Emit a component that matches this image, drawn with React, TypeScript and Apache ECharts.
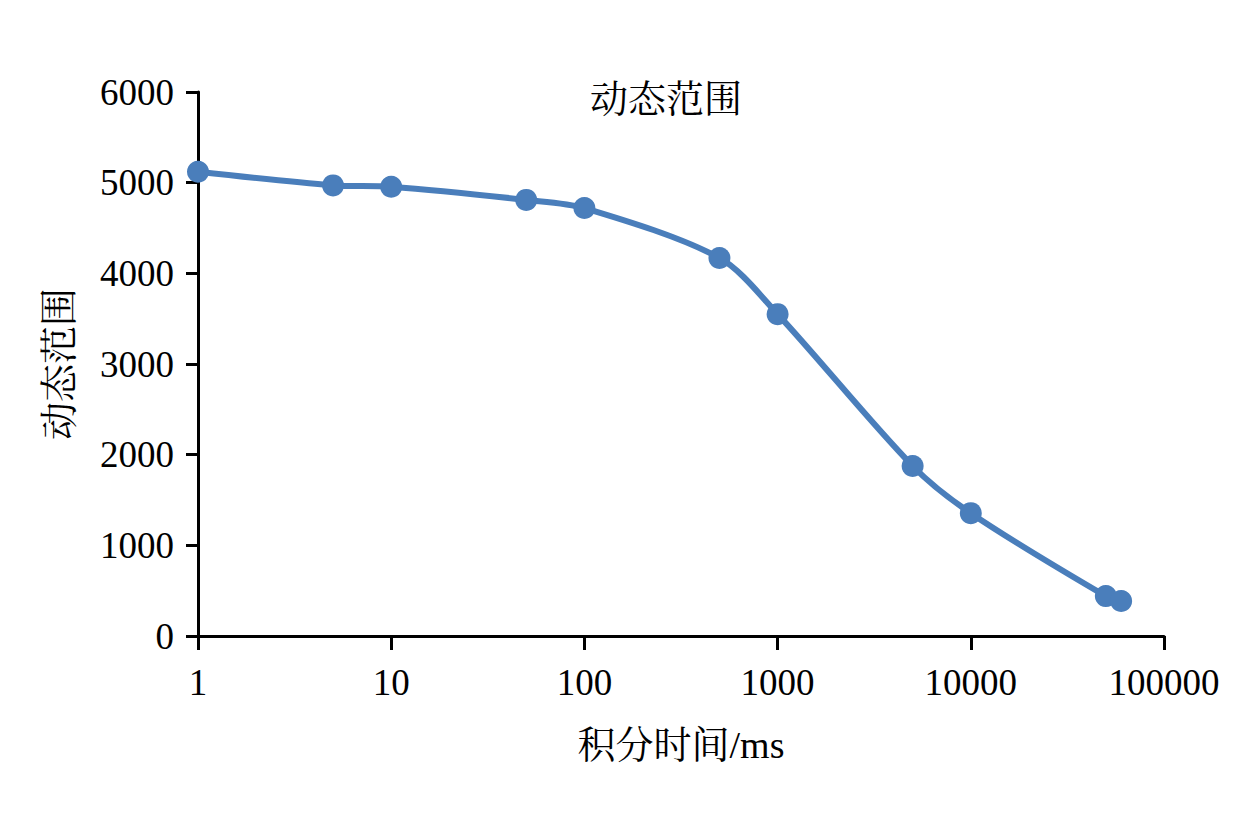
import React, { useEffect, useRef } from "react";
import * as echarts from "echarts";

const xValues = [1, 5, 10, 50, 100, 500, 1000, 5000, 10000, 50000, 60000];
const yValues = [5120, 4970, 4955, 4810, 4720, 4170, 3550, 1875, 1355, 440, 385];
const titleText = "动态范围";
const xName = "积分时间/ms";
const yName = "动态范围";

const FONT = "'Liberation Serif', 'Times New Roman', 'Noto Serif CJK SC', 'Noto Sans CJK SC', serif";

export default function App() {
  const ref = useRef<HTMLDivElement>(null);
  useEffect(() => {
    const chart = echarts.init(ref.current!, undefined, { renderer: "svg" });
    chart.setOption({
      animation: false,
      backgroundColor: "#ffffff",
      title: {
        text: titleText,
        left: 661,
        top: 75,
        textAlign: "center",
        textStyle: { fontFamily: FONT, fontSize: 38, fontWeight: "normal", color: "#000" },
      },
      grid: { left: 198, right: 75, top: 92, bottom: 191, containLabel: false },
      xAxis: {
        type: "log",
        logBase: 10,
        min: 1,
        max: 100000,
        name: xName,
        nameLocation: "middle",
        nameGap: 90,
        nameTextStyle: { fontFamily: FONT, fontSize: 38, color: "#000" },
        axisLine: { show: true, lineStyle: { color: "#000", width: 3 } },
        axisTick: { show: true, inside: false, length: 14, lineStyle: { color: "#000", width: 3 } },
        minorTick: { show: false },
        splitLine: { show: false },
        axisLabel: {
          fontFamily: FONT,
          fontSize: 37,
          color: "#000",
          margin: 28,
          formatter: (v: number) => String(Math.round(v)),
        },
      },
      yAxis: {
        type: "value",
        min: 0,
        max: 6000,
        interval: 1000,
        name: yName,
        nameLocation: "middle",
        nameGap: 120,
        nameRotate: 90,
        nameTextStyle: { fontFamily: FONT, fontSize: 38, color: "#000" },
        axisLine: { show: true, lineStyle: { color: "#000", width: 3 } },
        axisTick: { show: true, inside: false, length: 12, lineStyle: { color: "#000", width: 3 } },
        splitLine: { show: false },
        axisLabel: {
          fontFamily: FONT,
          fontSize: 37,
          color: "#000",
          margin: 24,
          formatter: (v: number) => String(v),
        },
      },
      series: [
        {
          type: "line",
          data: xValues.map((x, i) => [x, yValues[i]]),
          smooth: 0.3,
          symbol: "circle",
          symbolSize: 22,
          lineStyle: { color: "#4a7ebb", width: 6 },
          itemStyle: { color: "#4a7ebb" },
        },
      ],
    });
    return () => chart.dispose();
  }, []);
  return (
    <div
      ref={ref}
      style={{ position: "absolute", left: 0, top: 0, width: 1239, height: 827 }}
    />
  );
}
